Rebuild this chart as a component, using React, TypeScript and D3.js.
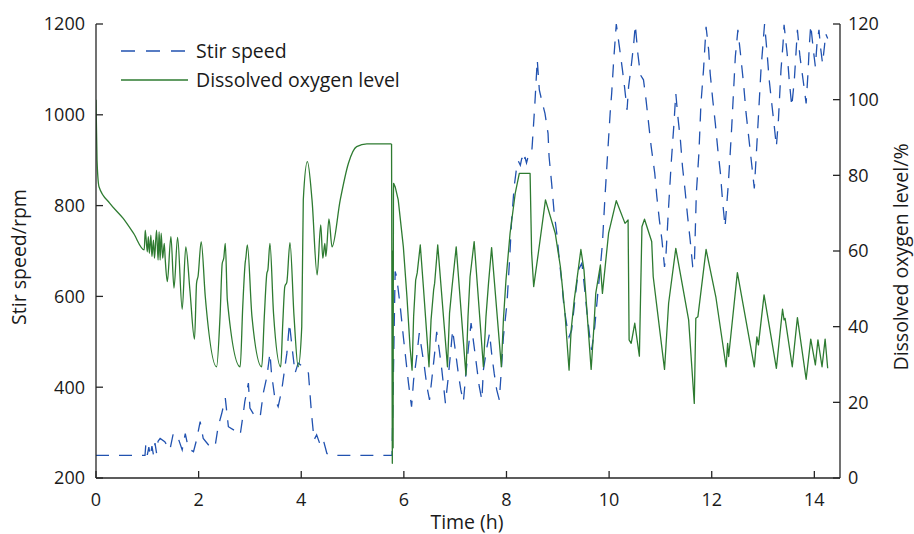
import React from "react";
import * as d3 from "d3";

// ---- Data ----
const doTime = [
  0, 0.02, 0.06, 0.27, 0.53, 0.73, 0.94,
  0.96, 1.0, 1.02, 1.04, 1.07, 1.09, 1.12, 1.14, 1.18, 1.21, 1.23, 1.25, 1.27, 1.3, 1.33, 1.35,
  1.39, 1.46, 1.52, 1.59, 1.68, 1.75, 1.83, 1.92, 1.96, 1.99, 2.05, 2.13, 2.35, 2.42, 2.46, 2.49,
  2.52, 2.56, 2.81, 2.86, 2.91, 2.92, 2.95, 3.04, 3.23, 3.28, 3.33, 3.35, 3.39, 3.46, 3.6, 3.64,
  3.68, 3.72, 3.78, 3.86, 3.94, 4.01, 4.04, 4.12, 4.21, 4.31, 4.38, 4.42, 4.46, 4.48, 4.54, 4.6,
  4.76, 4.92, 5.08, 5.28, 5.76, 5.775, 5.783, 5.79, 5.797, 5.8, 5.83, 5.89, 5.99, 6.06, 6.12,
  6.16, 6.19, 6.23, 6.26, 6.32, 6.38, 6.45, 6.49, 6.53, 6.58, 6.6, 6.66, 6.85, 6.89, 6.94, 7.02,
  7.21, 7.25, 7.29, 7.37, 7.55, 7.6, 7.65, 7.71, 7.9, 7.94, 7.99, 8.07, 8.17, 8.25, 8.46, 8.49,
  8.53, 8.62, 8.76, 8.95, 9.05, 9.14, 9.22, 9.26, 9.32, 9.45, 9.51, 9.65, 9.7, 9.74, 9.83, 9.87,
  9.99, 10.14, 10.31, 10.37, 10.39, 10.43, 10.5, 10.59, 10.64, 10.69, 10.83, 10.86, 11.08, 11.16,
  11.3, 11.55, 11.66, 11.69, 11.73, 11.89, 12.08, 12.28, 12.31, 12.33, 12.5, 12.83, 12.88, 12.91, 13.02,
  13.26, 13.38, 13.41, 13.43, 13.57, 13.67, 13.84, 13.93, 14.02, 14.07, 14.15, 14.21, 14.26,
];
const doLevel = [
  100, 84, 76.9, 72.6, 68.6, 64.7, 60.3,
  65.5, 59.8, 63.8, 59.4, 64.2, 58.5, 62.9, 58.1, 65.5, 57.6, 65.1, 57.6, 64.7, 58.1, 62, 57.6,
  51.9, 63.8, 50.2, 63.6, 44.6, 61.1, 49.7, 36.7, 51.5, 53.4, 62.5, 47.9, 29.4, 43.5, 56.7, 58.1,
  62, 47, 29.4, 45.3, 57.2, 58.1, 61.6, 42.6, 29.4, 42.6, 54.1, 55, 62, 43.5, 29.4, 40.9,
  50.6, 51.8, 62.2, 42.6, 29.4, 40, 73.5, 83.6, 73.5, 53.7, 66.9, 58.1, 62, 58.5, 68.5, 61.1,
  73.5, 83.2, 87.6, 88.3, 88.3, 3.9, 60, 8, 75, 77.9, 77, 73.5, 61.1, 47.9, 34.7,
  28.5, 42.6, 52.3, 54.2, 61.6, 50.6, 37.3, 29.4, 41.8, 49.7, 51.5, 61.6, 29.4, 43.5, 50.6, 61.1,
  27.2, 42.6, 53.2, 62.5, 29.4, 42.6, 51.5, 60.9, 29.4, 41.8, 52.3, 64.7, 75.2, 80.5, 80.5, 59.5,
  50.6, 59.4, 73.5, 64.7, 55.9, 43.5, 28.5, 39.1, 47, 60.4, 55, 28.7, 39.1, 48.8, 56.3, 48.8,
  64.7, 73.3, 67.3, 68.2, 36.5, 35.6, 40.9, 32.2, 66.4, 68.4, 62.5, 53.2, 28.7, 46.2,
  60.7, 41.8, 19.7, 42.2, 42.6, 60.4, 47.9, 29.4, 35.6, 32.1, 54.3, 29.4, 37.3, 35.2, 48.4,
  29, 44.6, 41.8, 42.2, 29.4, 42.4, 26.1, 36.7, 29.9, 36.5, 29.4, 36.7, 29,
];

const stirTime = [
  0, 0.955, 0.97, 1.0, 1.03, 1.06, 1.09, 1.12, 1.15, 1.18, 1.21, 1.25, 1.34, 1.44, 1.5, 1.57,
  1.68, 1.74, 1.8, 1.9, 1.96, 2.03, 2.09, 2.22, 2.32, 2.38, 2.45, 2.52, 2.58, 2.74, 2.81, 2.87,
  2.9, 2.97, 3.0, 3.1, 3.2, 3.26, 3.33, 3.39, 3.42, 3.49, 3.55, 3.62, 3.72, 3.77, 3.82, 3.88,
  3.94, 4.04, 4.14, 4.2, 4.25, 4.3, 4.37, 4.43, 4.5, 4.56, 5.77, 5.83, 5.86, 5.93, 5.99, 6.04,
  6.09, 6.15, 6.19, 6.25, 6.3, 6.35, 6.4, 6.45, 6.5, 6.55, 6.6, 6.64, 6.69, 6.74, 6.81, 6.86,
  6.91, 6.95, 7.01, 7.06, 7.11, 7.16, 7.21, 7.26, 7.31, 7.37, 7.42, 7.47, 7.52, 7.55, 7.62, 7.67,
  7.71, 7.76, 7.81, 7.86, 7.9, 7.94, 8.01, 8.06, 8.1, 8.15, 8.2, 8.23, 8.27, 8.3, 8.33, 8.36,
  8.39, 8.42, 8.45, 8.49, 8.5, 8.55, 8.6, 8.64, 8.69,
  8.75, 8.81, 8.83, 8.88, 8.93, 8.98, 9.03, 9.08, 9.12, 9.18, 9.22, 9.27, 9.34, 9.4, 9.47, 9.52,
  9.57, 9.63, 9.66, 9.72, 9.78, 9.83, 9.87, 9.92, 9.98, 10.02, 10.05, 10.09, 10.14, 10.2, 10.26,
  10.3, 10.35, 10.38, 10.43, 10.48, 10.51, 10.56, 10.61, 10.67, 10.72, 10.77, 10.82, 10.89,
  10.93, 10.98, 11.03, 11.08, 11.11, 11.16, 11.21, 11.26, 11.3, 11.34, 11.39, 11.43, 11.48,
  11.53, 11.58, 11.63, 11.66, 11.7, 11.75, 11.79, 11.84, 11.89, 11.94, 11.97, 12.02, 12.07,
  12.12, 12.17, 12.21, 12.26, 12.32, 12.36, 12.39, 12.43, 12.46, 12.51, 12.56, 12.62, 12.67,
  12.72, 12.77, 12.83, 12.87, 12.91, 12.96, 13.01, 13.03, 13.08, 13.12, 13.17, 13.22, 13.26,
  13.3, 13.35, 13.39, 13.41, 13.47, 13.51, 13.56, 13.61, 13.64, 13.67, 13.72, 13.79, 13.84,
  13.88, 13.9, 13.93, 13.98, 14.02, 14.05, 14.09, 14.12, 14.16, 14.2, 14.22, 14.26,
];
const stirSpeed = [
  250, 250, 273, 251, 268, 248, 270, 251, 277, 255, 281, 287, 280, 262, 295, 298,
  262, 298, 265, 258, 284, 324, 287, 269, 269, 313, 342, 376, 313, 302, 295, 342,
  368, 409, 354, 335, 335, 387, 423, 475, 431, 372, 357, 394, 475, 541, 489, 431,
  453, 445, 431, 342, 284, 295, 273, 284, 254, 250, 250, 655, 643, 577, 511, 460,
  409, 357, 416, 467, 519, 482, 445, 401, 372, 423, 475, 522, 482, 438, 365, 416,
  475, 526, 475, 431, 394, 368, 431, 489, 541, 489, 445, 401, 372, 438, 489, 519,
  475, 431, 394, 372, 438, 511, 585, 680, 768, 842, 886, 898, 889, 905, 892, 907,
  894, 907, 911, 915, 930, 1018, 1121, 1055, 1030,
  1003, 959, 908, 849, 783, 739, 680, 629, 577, 533, 511, 526, 599, 658, 673, 621,
  563, 504, 482, 533, 607, 665, 717, 820, 930, 1003, 1047, 1121, 1200, 1150, 1099,
  1062, 1011, 1062, 1106, 1157, 1198, 1135, 1088, 1077, 1033, 981, 930, 871,
  820, 768, 724, 665, 695, 798, 893, 974, 1047, 996, 944, 886, 834,
  776, 724, 665, 663, 827, 915, 1025, 1099, 1194, 1143, 1091, 1033, 981,
  922, 871, 812, 753, 842, 915, 974, 1062, 1128, 1187, 1135, 1069, 1003,
  952, 900, 838, 915, 996, 1099, 1172, 1200, 1135, 1077, 1025, 974, 930,
  989, 1099, 1157, 1198, 1135, 1077, 1018, 1077, 1132, 1187, 1128, 1069, 1025,
  1099, 1149, 1198, 1143, 1106, 1154, 1187, 1149, 1113, 1154, 1179, 1168,
];

const xTicks = [0, 2, 4, 6, 8, 10, 12, 14];
const leftTicks = [200, 400, 600, 800, 1000, 1200];
const rightTicks = [0, 20, 40, 60, 80, 100, 120];

const legendLabels = ["Stir speed", "Dissolved oxygen level"];
const smoothUntil = 5.76; // DO curve is smooth up to the plateau end

export default function App() {
  const W = 914, H = 534;
  const left = 96, right = 840, top = 24, bottom = 478;
  const FONT = "'Open Sans', 'Noto Sans', sans-serif";
  const FS_TXT = 19.5;
  const FS_TICK = 18;
  const BLUE = "#2152b0";
  const GREEN = "#2e7b31";
  const AX = "#262626";
  const TXT = "#1a1a1a";

  const x = d3.scaleLinear().domain([0, 14.5]).range([left, right]);
  const yL = d3.scaleLinear().domain([200, 1200]).range([bottom, top]);
  const yR = d3.scaleLinear().domain([0, 120]).range([bottom, top]);

  const stirPts: [number, number][] = stirTime.map((t, i) => [x(t), yL(stirSpeed[i])]);
  const doPts: [number, number][] = doTime.map((t, i) => [x(t), yR(doLevel[i])]);
  const split = doTime.findIndex((t) => t >= smoothUntil);

  const linear = d3.line();
  const smooth = d3.line().curve(d3.curveMonotoneX);

  return (
    <svg width={W} height={H} style={{ position: "absolute", left: 0, top: 0, background: "#fff" }}
      fontFamily={FONT}>
      <defs>
        <clipPath id="plotclip">
          <rect x={left} y={top - 1} width={right - left} height={bottom - top + 1} />
        </clipPath>
      </defs>
      <rect x={0} y={0} width={W} height={H} fill="#fff" />
      <g clipPath="url(#plotclip)">
        <path d={linear(stirPts) || ""} fill="none" stroke={BLUE} strokeWidth={1.3}
          strokeDasharray="13,10" />
        <path d={smooth(doPts.slice(0, split + 1)) || ""} fill="none" stroke={GREEN} strokeWidth={1.3}
          strokeLinejoin="round" />
        <path d={linear(doPts.slice(split)) || ""} fill="none" stroke={GREEN} strokeWidth={1.3}
          strokeLinejoin="round" />
      </g>

      {/* axes */}
      <line x1={left} y1={top} x2={left} y2={bottom} stroke={AX} strokeWidth={1.3} />
      <line x1={right} y1={top} x2={right} y2={bottom} stroke={AX} strokeWidth={1.3} />
      <line x1={left} y1={bottom} x2={right} y2={bottom} stroke={AX} strokeWidth={1.5} />

      <g fontSize={FS_TICK} fill={TXT}>
        {xTicks.map((t) => (
          <g key={"x" + t}>
            <line x1={x(t)} x2={x(t)} y1={bottom} y2={bottom - 7} stroke={AX} strokeWidth={1.3} />
            <text x={x(t)} y={506} textAnchor="middle">{t}</text>
          </g>
        ))}
        {leftTicks.map((t) => (
          <g key={"l" + t}>
            <line x1={left} x2={left + 7} y1={yL(t)} y2={yL(t)} stroke={AX} strokeWidth={1.3} />
            <text x={85} y={yL(t)} dy="0.36em" textAnchor="end">{t}</text>
          </g>
        ))}
        {rightTicks.map((t) => (
          <g key={"r" + t}>
            <line x1={right} x2={right - 7} y1={yR(t)} y2={yR(t)} stroke={AX} strokeWidth={1.3} />
            <text x={right + 8} y={yR(t)} dy="0.36em" textAnchor="start">{t}</text>
          </g>
        ))}
      </g>

      <g fontSize={FS_TXT} fill={TXT}>
        <text x={467} y={529} textAnchor="middle">Time (h)</text>
        <text transform={`translate(26,${(top + bottom) / 2 + 6}) rotate(-90)`} textAnchor="middle">
          Stir speed/rpm
        </text>
        <text transform={`translate(908,${(top + bottom) / 2 + 6}) rotate(-90)`} textAnchor="middle">
          Dissolved oxygen level/%
        </text>

        {/* legend */}
        <line x1={121} x2={188} y1={51} y2={51} stroke={BLUE} strokeWidth={1.3} strokeDasharray="14,11" />
        <text x={196} y={51} dy="0.35em">{legendLabels[0]}</text>
        <line x1={121} x2={188} y1={80} y2={80} stroke={GREEN} strokeWidth={1.3} />
        <text x={196} y={80} dy="0.35em">{legendLabels[1]}</text>
      </g>
    </svg>
  );
}
